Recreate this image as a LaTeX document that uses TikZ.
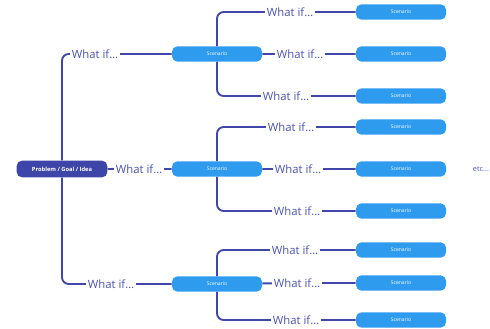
\documentclass[tikz,border=0pt]{standalone}
\usepackage{fontspec}
\setmainfont{Open Sans}

\definecolor{ideablue}{HTML}{3D46A8}
\definecolor{scenblue}{HTML}{2F9BEE}
\definecolor{linkblue}{HTML}{3F48AA}
\definecolor{textblue}{HTML}{4A51B6}

\tikzset{
  idea/.style={rectangle, rounded corners=4pt, fill=ideablue, text=white,
    minimum width=68pt, minimum height=12.5pt, inner sep=0pt,
    font=\fontsize{4.3}{5}\selectfont\bfseries},
  scen/.style={rectangle, rounded corners=4pt, fill=scenblue, text=white,
    minimum width=67.5pt, minimum height=11.5pt, inner sep=0pt,
    font=\fontsize{3.8}{4.5}\selectfont},
  whatif/.style={text=textblue, inner sep=1.2pt, font=\fontsize{8.5}{10}\selectfont},
  link/.style={draw=linkblue, line width=1.4pt, rounded corners=5pt},
}

\begin{document}
\begin{tikzpicture}[x=0.75pt,y=-0.75pt]
    \useasboundingbox (0,0) rectangle (490,329);
    \node[idea](p)      at (62,169)  {Problem / Goal / Idea};
    % first level
    \node[whatif](w1)   at (95,54)   {What if…};
    \node[whatif](w2)   at (139,169) {What if…};
    \node[whatif](w3)   at (111,284) {What if…};
    \node[scen](s1)     at (217,54)  {Scenario};
    \node[scen](s2)     at (217,169) {Scenario};
    \node[scen](s3)     at (217,284) {Scenario};
    % second level
    \node[whatif](w11)  at (290,12)  {What if…};
    \node[whatif](w12)  at (300,54)  {What if…};
    \node[whatif](w13)  at (286,96)  {What if…};
    \node[whatif](w21)  at (291,127) {What if…};
    \node[whatif](w22)  at (298,169) {What if…};
    \node[whatif](w23)  at (297,211) {What if…};
    \node[whatif](w31)  at (295,250) {What if…};
    \node[whatif](w32)  at (297,283) {What if…};
    \node[whatif](w33)  at (296,320) {What if…};
    \node[scen](s11)    at (401,12)  {Scenario};
    \node[scen](s12)    at (401,54)  {Scenario};
    \node[scen](s13)    at (401,96)  {Scenario};
    \node[scen](s21)    at (401,127) {Scenario};
    \node[scen](s22)    at (401,169) {Scenario};
    \node[scen](s23)    at (401,211) {Scenario};
    \node[scen](s31)    at (401,250) {Scenario};
    \node[scen](s32)    at (401,283) {Scenario};
    \node[scen](s33)    at (401,320) {Scenario};
    \node[text=textblue, inner sep=0pt, font=\fontsize{5.5}{6}\selectfont](etc) at (481,169) {etc...};
    % Links
    \path[link]
        (p) |- (w1)  (w1) -- (s1)
        (p) -- (w2)  (w2) -- (s2)
        (p) |- (w3)  (w3) -- (s3)
        (s1) |- (w11)  (w11) -- (s11)
        (s1) -- (w12)  (w12) -- (s12)
        (s1) |- (w13)  (w13) -- (s13)
        (s2) |- (w21)  (w21) -- (s21)
        (s2) -- (w22)  (w22) -- (s22)
        (s2) |- (w23)  (w23) -- (s23)
        (s3) |- (w31)  (w31) -- (s31)
        (s3) -- (w32)  (w32) -- (s32)
        (s3) |- (w33)  (w33) -- (s33)
        ;
\end{tikzpicture}
\end{document}
